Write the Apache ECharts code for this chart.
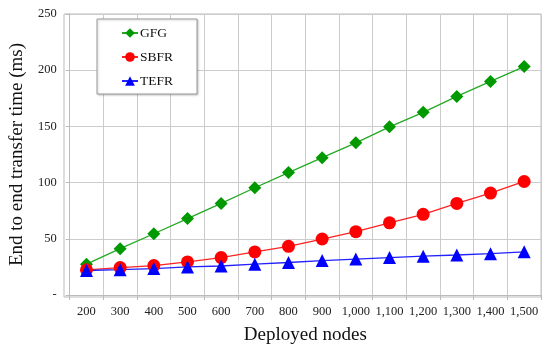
<!DOCTYPE html>
<html><head><meta charset="utf-8">
<script src="https://cdn.jsdelivr.net/npm/echarts@6/dist/echarts.min.js"></script>
<style>html,body{margin:0;padding:0;background:#fff}#c{width:550px;height:350px}</style>
</head><body><div id="c"></div>
<script>
const categories = ['200','300','400','500','600','700','800','900','1,000','1,100','1,200','1,300','1,400','1,500'];
const gfg  = [27.4, 41.2, 54.5, 68, 81.5, 95.4, 108.9, 122.2, 135.4, 149.6, 162.5, 176.7, 190, 203.2];
const sbfr = [22.4, 24.4, 26.2, 29.4, 33.3, 38.3, 43.3, 49.8, 56.3, 64.2, 71.8, 81.5, 90.7, 101];
const tefr = [21.8, 22.5, 23.5, 25.0, 25.8, 27.4, 28.9, 30.6, 32, 33.3, 34.5, 35.6, 36.8, 38.4];
const yTicks = [0, 50, 100, 150, 200, 250];

const font = 'Liberation Serif';
const chart = echarts.init(document.getElementById('c'));
chart.setOption({
  animation: false,
  textStyle: {fontFamily: font},
  grid: {left: 64, right: 9, top: 14, bottom: 53, containLabel: false},
  legend: {
    orient: 'vertical', left: 97, top: 19,
    padding: [7, 24, 6, 24],
    itemGap: 10, itemWidth: 16, itemHeight: 12,
    backgroundColor: '#fff', borderColor: '#999', borderWidth: 1,
    shadowColor: 'rgba(0,0,0,0.2)', shadowBlur: 2, shadowOffsetX: 1, shadowOffsetY: 1,
    textStyle: {fontFamily: font, fontSize: 13.5, color: '#111', padding: [0,0,0,-3]},
    data: ['GFG', 'SBFR', 'TEFR']
  },
  xAxis: {
    type: 'category', data: categories, boundaryGap: true,
    name: 'Deployed nodes', nameLocation: 'middle', nameGap: 31,
    nameTextStyle: {fontFamily: font, fontSize: 19, color: '#111'},
    axisLine: {show: true, lineStyle: {color: '#bbb'}},
    axisTick: {show: true, length: 5, lineStyle: {color: '#bbb'}},
    axisLabel: {fontFamily: font, fontSize: 12.5, color: '#222', margin: 10, interval: 0},
    splitLine: {show: true, lineStyle: {color: '#ccc'}}
  },
  yAxis: {
    type: 'value', min: 0, max: 250, interval: 50,
    name: 'End to end transfer time (ms)', nameLocation: 'middle', nameGap: 41,
    nameTextStyle: {fontFamily: font, fontSize: 19, color: '#111'},
    axisLine: {show: true, lineStyle: {color: '#bbb'}},
    axisTick: {show: true, length: 4, lineStyle: {color: '#bbb'}},
    axisLabel: {fontFamily: font, fontSize: 12.5, color: '#222', margin: 13,
      formatter: v => v === 0 ? '-' : String(v)},
    splitLine: {show: true, lineStyle: {color: '#ccc'}}
  },
  graphic: [{type: 'rect', shape: {x: 64, y: 14, width: 477, height: 283}, style: {fill: 'none', stroke: '#bbb', lineWidth: 1}, silent: true, z: 0}],
  series: [
    {name: 'GFG', type: 'line', data: gfg, symbol: 'diamond', symbolSize: 13,
      lineStyle: {color: '#22aa22', width: 1.3}, itemStyle: {color: '#009900'}},
    {name: 'SBFR', type: 'line', data: sbfr, symbol: 'circle', symbolSize: 13,
      lineStyle: {color: '#ff2222', width: 1.3}, itemStyle: {color: '#ff0000'}},
    {name: 'TEFR', type: 'line', data: tefr, symbol: 'triangle', symbolSize: 13,
      lineStyle: {color: '#2222ff', width: 1.3}, itemStyle: {color: '#0000ff'}}
  ]
});
</script></body></html>
